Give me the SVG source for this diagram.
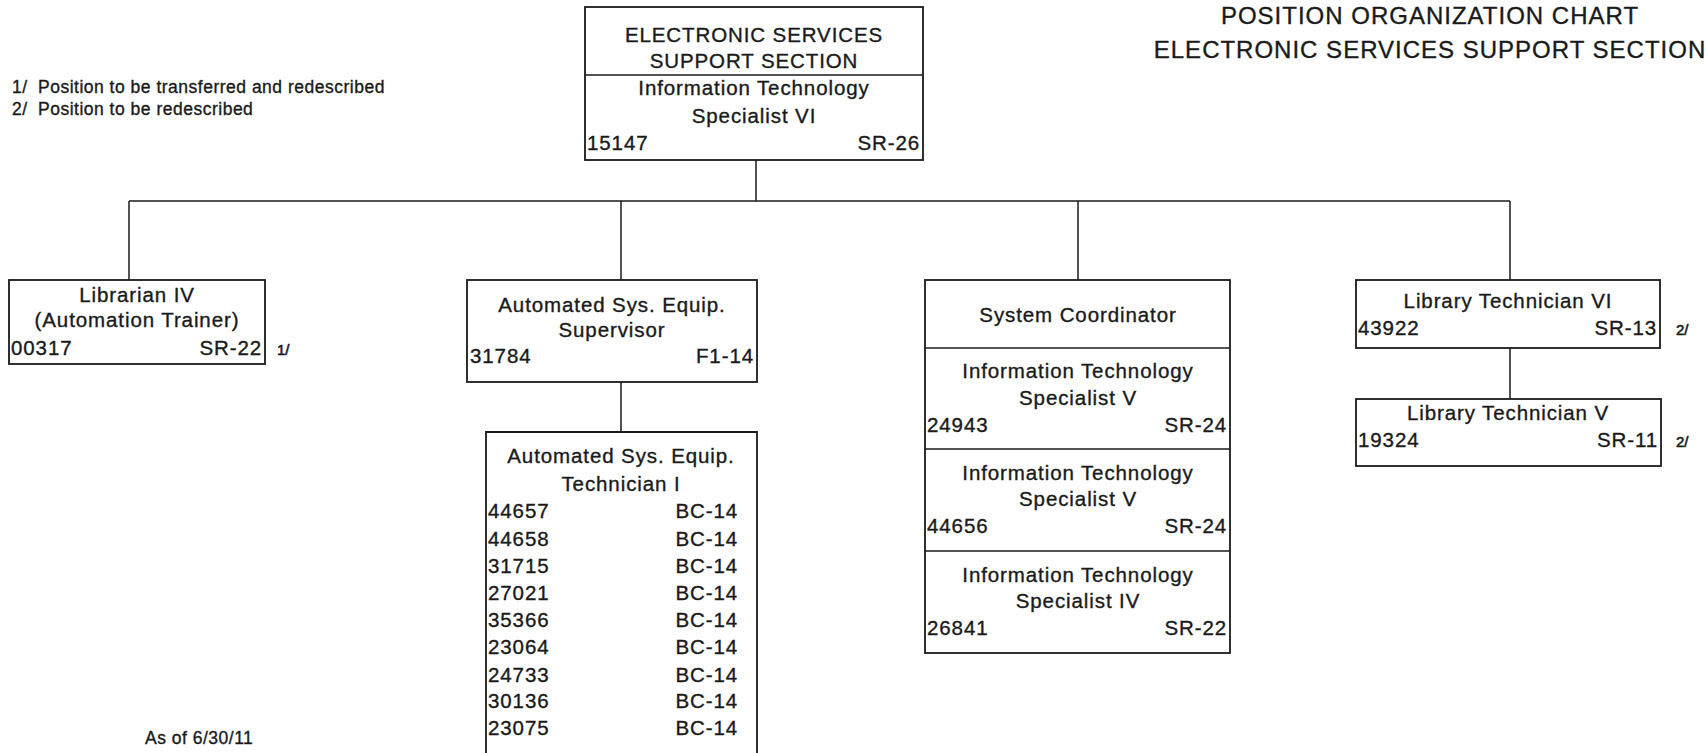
<svg xmlns="http://www.w3.org/2000/svg" width="1706" height="753" viewBox="0 0 1706 753">
<style>
text{font-family:"Liberation Sans",Arial,sans-serif;fill:#1a1a1a;stroke:#1a1a1a;stroke-width:0.35}
.t{font-size:20.5px;letter-spacing:0.9px}
.c{text-anchor:middle}
.r{text-anchor:end}
.title{font-size:24px;letter-spacing:1px;text-anchor:middle}
.note{font-size:17.5px;letter-spacing:0.5px}
.fn{font-size:15px;stroke-width:0.6}
.box{fill:#fff;stroke:#1a1a1a;stroke-width:1.8}
.conn{fill:none;stroke:#1a1a1a;stroke-width:1.5}
</style>
<rect width="1706" height="753" fill="#fff"/>
<g id="title">
<text class="title" x="1430" y="24">POSITION ORGANIZATION CHART</text>
<text class="title" x="1430" y="58">ELECTRONIC SERVICES SUPPORT SECTION</text>
</g>
<g id="notes">
<text class="note" x="12" y="93">1/</text><text class="note" x="38" y="93">Position to be transferred and redescribed</text>
<text class="note" x="12" y="115">2/</text><text class="note" x="38" y="115">Position to be redescribed</text>
<text class="note" x="145" y="744">As of 6/30/11</text>
</g>
<g id="connectors">
<line class="conn" x1="756" y1="160" x2="756" y2="201"/>
<line class="conn" x1="129" y1="201" x2="1510" y2="201"/>
<line class="conn" x1="129" y1="201" x2="129" y2="280"/>
<line class="conn" x1="621" y1="201" x2="621" y2="280"/>
<line class="conn" x1="1078" y1="201" x2="1078" y2="280"/>
<line class="conn" x1="1510" y1="201" x2="1510" y2="280"/>
<line class="conn" x1="621" y1="382" x2="621" y2="432"/>
<line class="conn" x1="1510" y1="348" x2="1510" y2="399"/>
</g>
<g id="head">
<rect class="box" x="585" y="7" width="338" height="153"/>
<line class="conn" x1="585" y1="75" x2="923" y2="75"/>
<text class="t c" x="754" y="42">ELECTRONIC SERVICES</text>
<text class="t c" x="754" y="68">SUPPORT SECTION</text>
<text class="t c" x="754" y="95">Information Technology</text>
<text class="t c" x="754" y="123">Specialist VI</text>
<text class="t" x="587" y="150">15147</text>
<text class="t r" x="920" y="150">SR-26</text>
</g>
<g id="librarian">
<rect class="box" x="9" y="280" width="256" height="84"/>
<text class="t c" x="137" y="302">Librarian IV</text>
<text class="t c" x="137" y="327">(Automation Trainer)</text>
<text class="t" x="11" y="355">00317</text>
<text class="t r" x="262" y="355">SR-22</text>
<text class="fn" x="277" y="355">1/</text>
</g>
<g id="supervisor">
<rect class="box" x="467" y="280" width="290" height="102"/>
<text class="t c" x="612" y="312">Automated Sys. Equip.</text>
<text class="t c" x="612" y="337">Supervisor</text>
<text class="t" x="470" y="363">31784</text>
<text class="t r" x="754" y="363">F1-14</text>
</g>
<g id="technician">
<path class="box" d="M486 760 V432 H757 V760"/>
<text class="t c" x="621" y="463">Automated Sys. Equip.</text>
<text class="t c" x="621" y="491">Technician I</text>
<text class="t" x="488" y="518">44657</text><text class="t r" x="738" y="518">BC-14</text>
<text class="t" x="488" y="546">44658</text><text class="t r" x="738" y="546">BC-14</text>
<text class="t" x="488" y="573">31715</text><text class="t r" x="738" y="573">BC-14</text>
<text class="t" x="488" y="600">27021</text><text class="t r" x="738" y="600">BC-14</text>
<text class="t" x="488" y="627">35366</text><text class="t r" x="738" y="627">BC-14</text>
<text class="t" x="488" y="654">23064</text><text class="t r" x="738" y="654">BC-14</text>
<text class="t" x="488" y="682">24733</text><text class="t r" x="738" y="682">BC-14</text>
<text class="t" x="488" y="708">30136</text><text class="t r" x="738" y="708">BC-14</text>
<text class="t" x="488" y="735">23075</text><text class="t r" x="738" y="735">BC-14</text>
</g>
<g id="coordinator">
<rect class="box" x="925" y="280" width="305" height="373"/>
<line class="conn" x1="925" y1="348" x2="1230" y2="348"/>
<line class="conn" x1="925" y1="449" x2="1230" y2="449"/>
<line class="conn" x1="925" y1="551" x2="1230" y2="551"/>
<text class="t c" x="1078" y="322">System Coordinator</text>
<text class="t c" x="1078" y="378">Information Technology</text>
<text class="t c" x="1078" y="405">Specialist V</text>
<text class="t" x="927" y="432">24943</text><text class="t r" x="1227" y="432">SR-24</text>
<text class="t c" x="1078" y="480">Information Technology</text>
<text class="t c" x="1078" y="506">Specialist V</text>
<text class="t" x="927" y="533">44656</text><text class="t r" x="1227" y="533">SR-24</text>
<text class="t c" x="1078" y="582">Information Technology</text>
<text class="t c" x="1078" y="608">Specialist IV</text>
<text class="t" x="927" y="635">26841</text><text class="t r" x="1227" y="635">SR-22</text>
</g>
<g id="libtech6">
<rect class="box" x="1356" y="280" width="304" height="68"/>
<text class="t c" x="1508" y="308">Library Technician VI</text>
<text class="t" x="1358" y="335">43922</text>
<text class="t r" x="1657" y="335">SR-13</text>
<text class="fn" x="1676" y="335">2/</text>
</g>
<g id="libtech5">
<rect class="box" x="1356" y="399" width="305" height="67"/>
<text class="t c" x="1508" y="420">Library Technician V</text>
<text class="t" x="1358" y="447">19324</text>
<text class="t r" x="1658" y="447">SR-11</text>
<text class="fn" x="1676" y="447">2/</text>
</g>
</svg>
